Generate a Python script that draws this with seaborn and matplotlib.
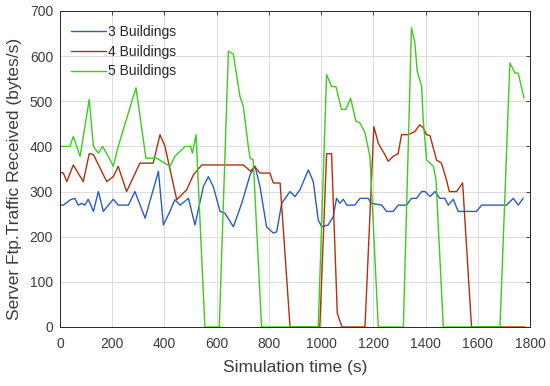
import matplotlib
matplotlib.use("Agg")
import matplotlib.pyplot as plt
import seaborn as sns
import pandas as pd

# ---- data ----
t3 = [0, 13, 40, 57, 70, 83, 95, 108, 128, 147, 166, 185, 204, 223, 262, 287, 326, 377, 396, 421, 440, 460,
      492, 517, 549, 568, 587, 613, 632, 664, 696, 728, 747, 766, 791, 817, 830, 849, 881, 900, 919, 951,
      970, 989, 1002, 1027, 1046, 1059, 1072, 1085, 1098, 1129, 1149, 1180, 1193, 1232, 1251, 1276, 1295,
      1327, 1346, 1365, 1385, 1398, 1417, 1436, 1455, 1474, 1487, 1506, 1525, 1595, 1615, 1710, 1736, 1755, 1774]
v3 = [270, 270, 282, 285, 270, 274, 270, 283, 256, 300, 256, 270, 283, 270, 270, 300, 241, 345, 226, 256, 282, 270,
      285, 226, 311, 333, 311, 256, 252, 222, 274, 337, 356, 311, 222, 208, 211, 274, 300, 289, 304, 348,
      322, 237, 222, 226, 244, 285, 274, 283, 270, 270, 285, 285, 274, 270, 256, 256, 270,
      270, 285, 285, 300, 300, 289, 300, 285, 285, 270, 283, 256, 256, 270, 270, 285, 270, 285]

t4 = [0, 13, 26, 51, 89, 112, 128, 179, 204, 223, 255, 306, 357, 383, 402, 447, 485, 511, 543, 702, 730, 745,
      766, 804, 817, 843, 881, 995, 1021, 1040, 1062, 1080, 1168, 1202, 1219, 1244, 1257, 1276, 1295, 1308,
      1334, 1359, 1378, 1391, 1404, 1417, 1442, 1461, 1480, 1491, 1519, 1542, 1576, 1780]
v4 = [343, 341, 322, 359, 322, 384, 382, 322, 333, 356, 300, 363, 363, 426, 400, 282, 304, 337, 359, 359, 345, 356,
      341, 341, 319, 319, 0, 0, 384, 384, 30, 0, 0, 444, 407, 382, 367, 378, 384, 426,
      426, 433, 448, 441, 426, 424, 370, 363, 326, 300, 300, 319, 0, 0]

t5 = [0, 38, 51, 77, 112, 128, 147, 163, 185, 204, 223, 291, 329, 370, 421, 440, 479, 500, 507, 521, 555, 610,
      645, 664, 689, 702, 721, 728, 740, 772, 989, 1021, 1040, 1057, 1078, 1095, 1113, 1133, 1149, 1168, 1187,
      1219, 1315, 1346, 1359, 1368, 1385, 1391, 1404, 1430, 1440, 1468, 1685, 1723, 1742, 1755, 1777]
v5 = [400, 400, 422, 378, 504, 400, 385, 400, 378, 356, 400, 530, 374, 374, 356, 378, 400, 400, 385, 426, 0, 0,
      611, 604, 511, 489, 400, 374, 370, 0, 0, 559, 533, 532, 482, 482, 507, 456, 452, 430, 378,
      0, 0, 663, 630, 567, 533, 459, 370, 356, 326, 0, 0, 585, 563, 562, 507]

labels = ["3 Buildings", "4 Buildings", "5 Buildings"]
colors = ["#2a5cc0", "#b3300c", "#3ccc1a"]

xticks = [0, 200, 400, 600, 800, 1000, 1200, 1400, 1600, 1800]
yticks = [0, 100, 200, 300, 400, 500, 600, 700]

sns.set_style("white")
plt.rcParams["font.family"] = ["Liberation Sans", "DejaVu Sans"]

txt = "#3c3c3c"
fig = plt.figure(figsize=(5.5, 3.86), dpi=100)
ax = fig.add_axes([60 / 550, (386 - 327) / 386, 470 / 550, 316 / 386])

for t, v, lab, c in zip([t3, t4, t5], [v3, v4, v5], labels, colors):
    df = pd.DataFrame({"t": t, "v": v})
    sns.lineplot(data=df, x="t", y="v", ax=ax, color=c, lw=1.0, label=lab, sort=False, estimator=None)

ax.set_xlim(0, 1800)
ax.set_ylim(0, 700)
ax.set_xticks(xticks)
ax.set_yticks(yticks)
ax.tick_params(axis="both", direction="in", labelsize=10, length=3, top=True, right=True,
               colors="#262626", labelcolor=txt, width=0.6)
ax.tick_params(axis="x", pad=7)
ax.tick_params(axis="y", pad=5)
ax.grid(True, color="#dcdcdc", lw=0.7)
for s in ax.spines.values():
    s.set_color("#262626")
    s.set_linewidth(0.7)
ax.set_xlabel("Simulation time (s)", fontsize=12.5, color=txt)
ax.set_ylabel("Server Ftp.Traffic Received (bytes/s)", fontsize=12.5, color=txt)
ax.xaxis.set_label_coords(0.5, -0.105)
ax.yaxis.set_label_coords(-0.08, 0.47)
ax.legend(loc="upper left", frameon=False, fontsize=10, handlelength=2.5, handletextpad=0.15,
          labelspacing=0.4, borderaxespad=0.4, bbox_to_anchor=(0.0, 0.99))

fig.savefig("out.png", dpi=100)
